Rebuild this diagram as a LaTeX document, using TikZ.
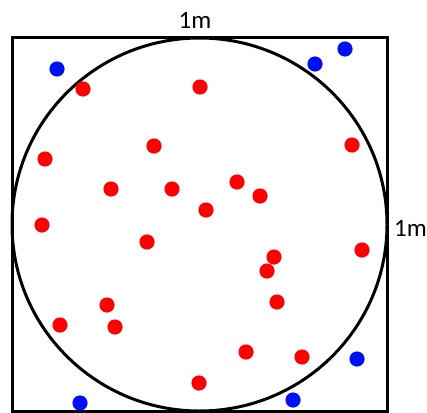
\documentclass[tikz,border=0pt]{standalone}
\usepackage{fontspec}
\setmainfont{Carlito}
\tikzset{
  reddot/.style={fill={rgb,255:red,255;green,0;blue,0}},
  bluedot/.style={fill={rgb,255:red,0;green,16;blue,245}},
  outline/.style={line width=3pt, draw=black},
  lbl/.style={inner sep=0pt, font=\fontsize{25}{30}\selectfont}
}
\begin{document}
\begin{tikzpicture}[x=1pt,y=-1pt]
\useasboundingbox (0,0) rectangle (427,412);
\draw[outline] (12,38) rectangle (387,411);
\draw[outline] (199.5,224.5) ellipse [x radius=187.5, y radius=186.5];
\node[lbl] (top) at (195,20) {1m};
\node[lbl, anchor=west] (right) at (394,228) {1m};
% red dots
\foreach \x/\y in {83/89, 200/87, 154/146, 352/145, 45/159, 111/189, 172/189,
  237/182, 260/196, 206/210, 42/225, 147/242, 362/250, 274/257, 267/271,
  277/302, 107/305, 60/325, 115/327, 246/352, 302/357, 199/383}
  \fill[reddot] (\x,\y) circle (7.6);
% blue dots
\foreach \x/\y in {57/69, 315/64, 345/49, 357/359, 80/403, 293/400}
  \fill[bluedot] (\x,\y) circle (7.6);
\end{tikzpicture}
\end{document}
